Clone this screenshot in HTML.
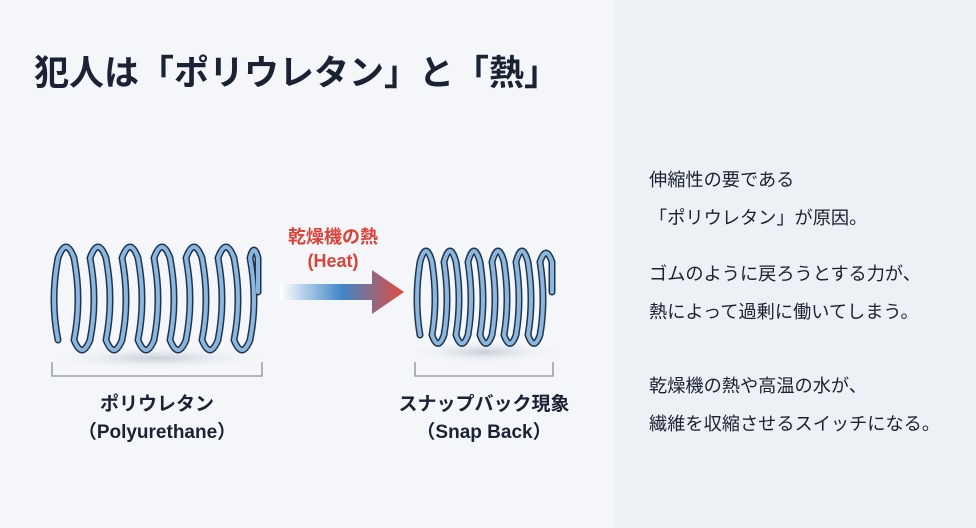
<!DOCTYPE html><html><head><meta charset="utf-8"><style>
body{margin:0;width:976px;height:528px;overflow:hidden;background:#f4f6f9;font-family:"Liberation Sans","Noto Sans CJK JP",sans-serif;position:relative}
.t{position:absolute;white-space:nowrap}
</style></head><body>
<div class="t" style="left:615px;top:0;width:361px;height:528px;background:#edf0f4"></div>
<div class="t" style="left:34px;top:45px;font-size:35px;font-weight:bold;color:#1a2233">犯人は「ポリウレタン」と「熱」</div>
<svg class="t" style="left:0;top:0" width="976" height="528">
<defs><linearGradient id="g" x1="0" x2="1"><stop offset="0" stop-color="#fff"/><stop offset="0.5" stop-color="#3f86c6"/><stop offset="1" stop-color="#e24b3e"/></linearGradient>
<radialGradient id="sh"><stop offset="0" stop-color="#c8ced8"/><stop offset="1" stop-color="#f4f6f9" stop-opacity="0"/></radialGradient></defs>
<ellipse cx="157" cy="358" rx="115" ry="12" fill="url(#sh)"/>
<ellipse cx="484" cy="352" rx="80" ry="12" fill="url(#sh)"/>
<path d="M58 340 Q50 300 58 258 Q66 236 74 258 Q82 300 74 340 Q82 360 90 340 Q98 300 90 258 Q98 236 106 258 Q114 300 106 340 Q114 360 122 340 Q130 300 122 258 Q130 236 138 258 Q146 300 138 340 Q146 360 154 340 Q162 300 154 258 Q162 236 170 258 Q178 300 170 340 Q178 360 186 340 Q194 300 186 258 Q194 236 202 258 Q210 300 202 340 Q210 360 218 340 Q226 300 218 258 Q226 236 234 258 Q242 300 234 340 Q242 360 250 340 Q258 300 250 258 Q254 242 258 258 L258 292" fill="none" stroke="#1d3550" stroke-width="7" stroke-linecap="round"/>
<path d="M58 340 Q50 300 58 258 Q66 236 74 258 Q82 300 74 340 Q82 360 90 340 Q98 300 90 258 Q98 236 106 258 Q114 300 106 340 Q114 360 122 340 Q130 300 122 258 Q130 236 138 258 Q146 300 138 340 Q146 360 154 340 Q162 300 154 258 Q162 236 170 258 Q178 300 170 340 Q178 360 186 340 Q194 300 186 258 Q194 236 202 258 Q210 300 202 340 Q210 360 218 340 Q226 300 218 258 Q226 236 234 258 Q242 300 234 340 Q242 360 250 340 Q258 300 250 258 Q254 242 258 258 L258 292" fill="none" stroke="#8db6dc" stroke-width="4" stroke-linecap="round"/>
<g transform="translate(360,0)">
<path d="M60 335 Q54 300 60 262 Q66 240 72 262 Q78 300 72 335 Q78 352 84 335 Q90 300 84 262 Q90 240 96 262 Q102 300 96 335 Q102 352 108 335 Q114 300 108 262 Q114 240 120 262 Q126 300 120 335 Q126 352 132 335 Q138 300 132 262 Q138 240 144 262 Q150 300 144 335 Q150 352 156 335 Q162 300 156 262 Q162 240 168 262 Q174 300 168 335 Q174 352 180 335 Q186 300 180 262 Q186 244 192 262 L192 292" fill="none" stroke="#1d3550" stroke-width="7" stroke-linecap="round"/>
<path d="M60 335 Q54 300 60 262 Q66 240 72 262 Q78 300 72 335 Q78 352 84 335 Q90 300 84 262 Q90 240 96 262 Q102 300 96 335 Q102 352 108 335 Q114 300 108 262 Q114 240 120 262 Q126 300 120 335 Q126 352 132 335 Q138 300 132 262 Q138 240 144 262 Q150 300 144 335 Q150 352 156 335 Q162 300 156 262 Q162 240 168 262 Q174 300 168 335 Q174 352 180 335 Q186 300 180 262 Q186 244 192 262 L192 292" fill="none" stroke="#8db6dc" stroke-width="4" stroke-linecap="round"/>
</g>
<path d="M52 362 V376 H262 V362 M415 362 V376 H553 V362" fill="none" stroke="#8a909a" stroke-width="1.3"/>
<path d="M280 284 H372 V270 L404 292 L372 314 V300 H280 Z" fill="url(#g)"/>
</svg>
<div class="t" style="left:283px;top:225px;width:100px;text-align:center;font-size:18px;font-weight:bold;color:#d9443a;line-height:24px">乾燥機の熱<br>(Heat)</div>
<div class="t" style="left:57px;top:391px;width:200px;text-align:center;font-size:19px;font-weight:bold;color:#1a2233;line-height:28px">ポリウレタン<br>（Polyurethane）</div>
<div class="t" style="left:384px;top:391px;width:200px;text-align:center;font-size:19px;font-weight:bold;color:#1a2233;line-height:28px">スナップバック現象<br>（Snap Back）</div>
<div class="t" style="left:649px;top:161px;font-size:18.2px;color:#1a2233;line-height:38px">伸縮性の要である<br>「ポリウレタン」が原因。<br><div style="height:18px"></div>ゴムのように戻ろうとする力が、<br>熱によって過剰に働いてしまう。<br><div style="height:36px"></div>乾燥機の熱や高温の水が、<br>繊維を収縮させるスイッチになる。</div>
</body></html>
